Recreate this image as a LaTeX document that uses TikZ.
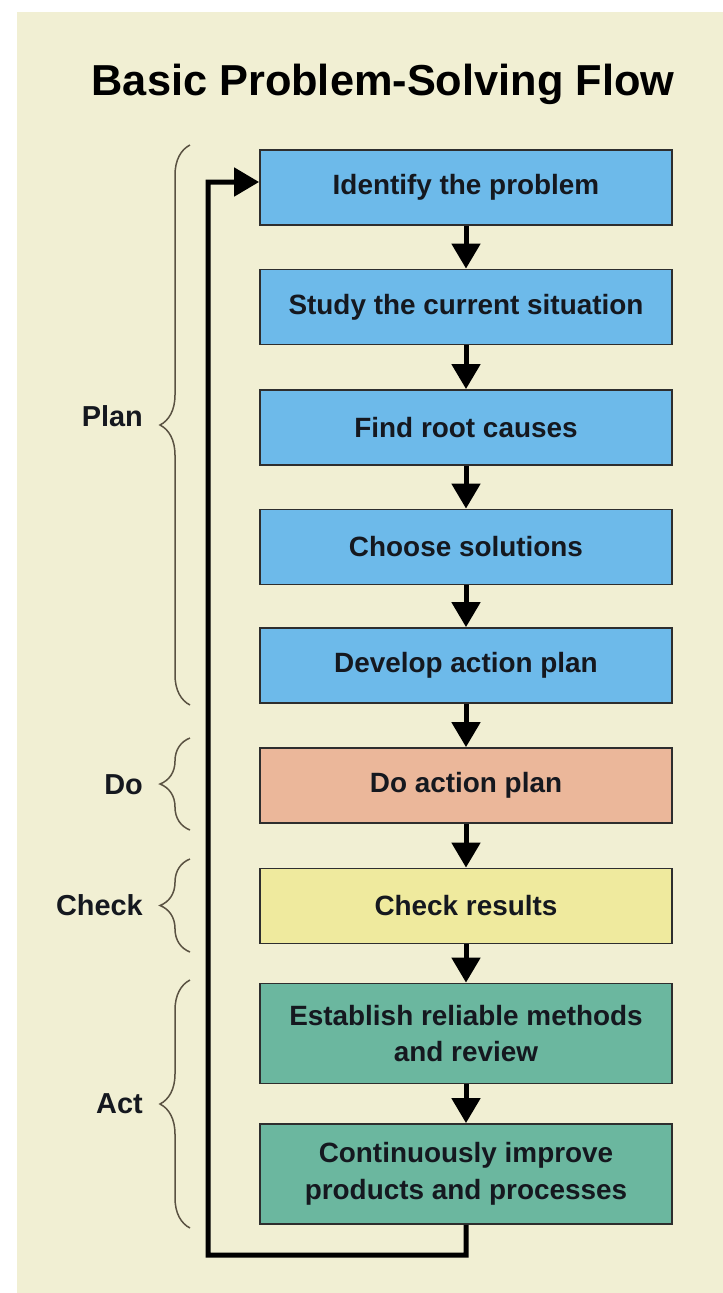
\documentclass[tikz,border=0pt]{standalone}
\usepackage{fontspec}
\setmainfont{Liberation Sans}
\usetikzlibrary{arrows.meta,decorations.pathreplacing}

\definecolor{panel}{HTML}{F1EFD3}
\definecolor{planblue}{HTML}{6DBAEA}
\definecolor{dosalmon}{HTML}{EBB79A}
\definecolor{checkyellow}{HTML}{EFEA9E}
\definecolor{actgreen}{HTML}{6BB79F}
\definecolor{boxline}{HTML}{2E2E2E}
\definecolor{ink}{HTML}{15181F}
\definecolor{bracecol}{HTML}{5A5242}

\begin{document}
\begin{tikzpicture}[x=1bp, y=-1bp,
  stepbox/.style={draw=boxline, line width=1.8bp, minimum width=412bp,
    minimum height=75bp, inner sep=0pt, text=ink, align=center,
    font=\fontsize{28}{37}\selectfont\bfseries},
  tallbox/.style={stepbox, minimum height=100bp},
  flow/.style={line width=5bp, draw=black, -{Triangle[width=28bp,length=25bp]}},
  phase/.style={anchor=east, inner sep=0pt, text=ink,
    font=\fontsize{29}{34}\selectfont\bfseries},
  phasebrace/.style={draw=bracecol, line width=1.5bp,
    decorate, decoration={brace, amplitude=30bp}}
]
% page and panel
\useasboundingbox (0,0) rectangle (723,1293);
\fill[white] (0,0) rectangle (723,1293);
\fill[panel] (17,12) rectangle (723,1293);

% title
\node[anchor=base, inner sep=0pt, text=black,
  font=\fontsize{43.5}{50}\selectfont\bfseries] (title) at (383,95)
  {Basic Problem-Solving Flow};

% process steps
\node[stepbox, fill=planblue] (s1) at (466,187.5) {Identify the problem};
\node[stepbox, fill=planblue] (s2) at (466,307) {Study the current situation};
\node[stepbox, fill=planblue] (s3) at (466,427.5) {Find root causes};
\node[stepbox, fill=planblue] (s4) at (466,547) {Choose solutions};
\node[stepbox, fill=planblue] (s5) at (466,665.5) {Develop action plan};
\node[stepbox, fill=dosalmon] (s6) at (466,785.5) {Do action plan};
\node[stepbox, fill=checkyellow] (s7) at (466,906) {Check results};
\node[tallbox, fill=actgreen] (s8) at (466,1033.5) {Establish reliable methods\\and review};
\node[tallbox, fill=actgreen] (s9) at (466,1174) {Continuously improve\\products and processes};

% forward arrows
\foreach \a/\b in {s1/s2, s2/s3, s3/s4, s4/s5, s5/s6, s6/s7, s7/s8, s8/s9}
  \draw[flow] (\a.south) -- (\b.north);

% feedback loop back to the first step
\coordinate (loopbot) at (208,1255);
\coordinate (looptop) at (208,182);
\draw[flow] (s9.south) |- (loopbot) -- (looptop) -- ([yshift=5.5bp]s1.west);

% PDCA phase labels and braces
\node[phase] (lplan) at (143,416) {Plan};
\node[phase] (ldo) at (143,785) {Do};
\node[phase] (lcheck) at (143,905) {Check};
\node[phase] (lact) at (143,1104) {Act};

\draw[phasebrace] (190,705) -- (190,145);
\draw[phasebrace] (190,830) -- (190,738);
\draw[phasebrace] (190,952) -- (190,859);
\draw[phasebrace] (190,1228) -- (190,980);
\end{tikzpicture}
\end{document}
